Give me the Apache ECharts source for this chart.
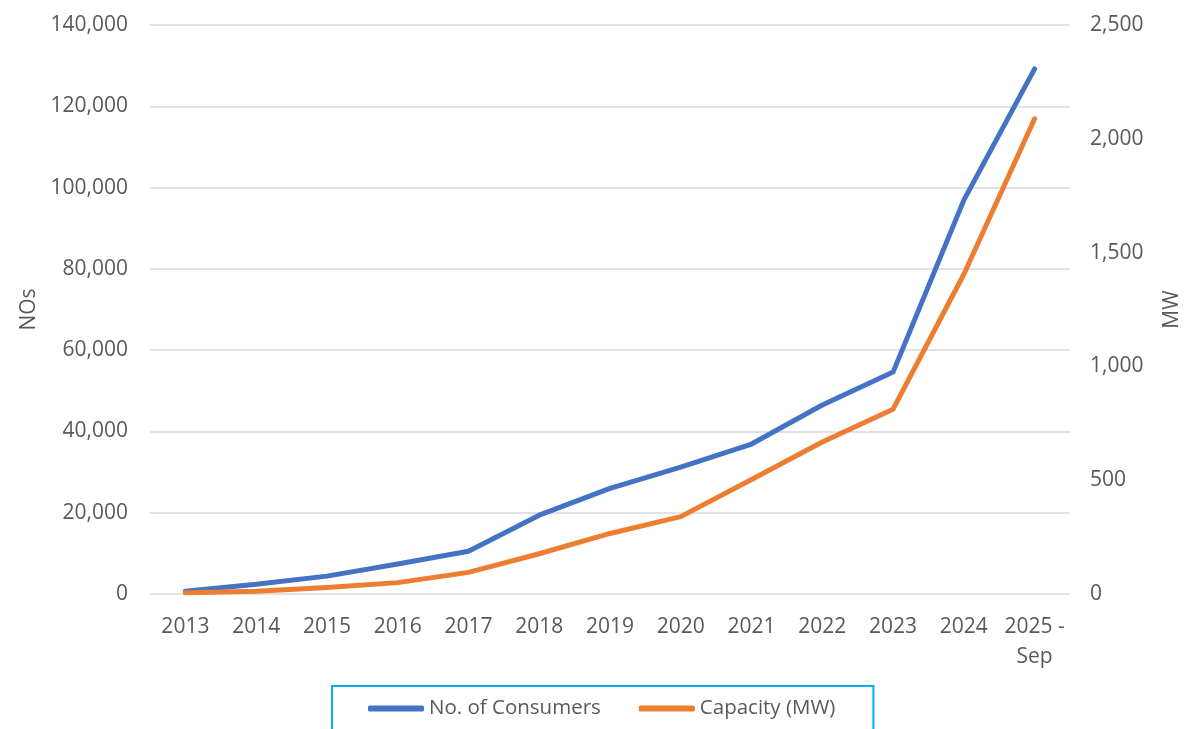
<!DOCTYPE html>
<html>
<head>
<meta charset="utf-8">
<script src="https://cdn.jsdelivr.net/npm/echarts@6/dist/echarts.min.js"></script>
<style>
  html, body { margin: 0; padding: 0; background: #fff; }
  #main { width: 1191px; height: 729px; }
</style>
</head>
<body>
<div id="main"></div>
<script>
// 数据
const years = ["2013", "2014", "2015", "2016", "2017", "2018", "2019", "2020", "2021", "2022", "2023", "2024", "2025 -\nSep"];
const consumers = [700, 2400, 4400, 7400, 10500, 19400, 26000, 31200, 36900, 46500, 54600, 96900, 129200];
const capacityMW = [5, 12, 29, 50, 95, 177, 266, 340, 503, 668, 812, 1405, 2088];
const leftTicks = { min: 0, max: 140000, interval: 20000 };
const rightTicks = { min: 0, max: 2500, interval: 500 };

const labelColor = "#595959";
const font = "Open Sans";

var chart = echarts.init(document.getElementById("main"));
var option = {
  animation: false,
  textStyle: { fontFamily: font },
  grid: { left: 150, right: 115, top: 25, bottom: 135 },
  legend: {
    left: 332,
    top: 686,
    padding: [12, 38, 30, 36],
    borderColor: "#00B0F0",
    borderWidth: 2,
    itemGap: 38,
    itemWidth: 56,
    itemHeight: 6,
    icon: "roundRect",
    textStyle: { color: labelColor, fontSize: 20.5, fontFamily: font },
    data: ["No. of Consumers", "Capacity (MW)"]
  },
  xAxis: {
    type: "category",
    data: years,
    boundaryGap: true,
    axisLine: { show: false },
    axisTick: { show: false },
    axisLabel: { color: labelColor, fontSize: 21, margin: 18, lineHeight: 30, interval: 0 }
  },
  yAxis: [
    {
      type: "value",
      name: "NOs",
      nameLocation: "middle",
      nameGap: 108,
      nameRotate: 90,
      nameTextStyle: { color: labelColor, fontSize: 21 },
      min: leftTicks.min,
      max: leftTicks.max,
      interval: leftTicks.interval,
      axisLabel: {
        color: labelColor,
        fontSize: 21,
        margin: 22,
        formatter: (v) => v.toLocaleString("en-US")
      },
      splitLine: { lineStyle: { color: "#D9D9D9", width: 1.5 } }
    },
    {
      type: "value",
      name: "MW",
      nameLocation: "middle",
      nameGap: 92,
      nameRotate: 90,
      nameTextStyle: { color: labelColor, fontSize: 21 },
      min: rightTicks.min,
      max: rightTicks.max,
      interval: rightTicks.interval,
      axisLabel: {
        color: labelColor,
        fontSize: 21,
        margin: 20,
        formatter: (v) => v.toLocaleString("en-US")
      },
      splitLine: { show: false }
    }
  ],
  series: [
    {
      name: "No. of Consumers",
      type: "line",
      data: consumers,
      yAxisIndex: 0,
      color: "#4472C4",
      symbol: "none",
      lineStyle: { width: 5, cap: "round", join: "round" }
    },
    {
      name: "Capacity (MW)",
      type: "line",
      data: capacityMW,
      yAxisIndex: 1,
      color: "#ED7D31",
      symbol: "none",
      lineStyle: { width: 5, cap: "round", join: "round" }
    }
  ]
};
option && chart.setOption(option);
</script>
</body>
</html>
